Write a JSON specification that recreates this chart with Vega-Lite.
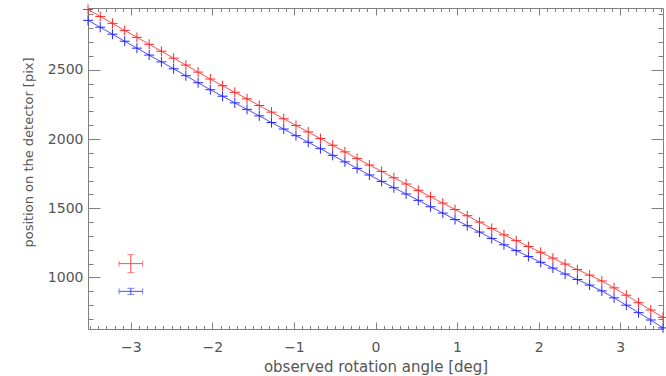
{
  "$schema": "https://vega.github.io/schema/vega-lite/v6.json",
  "width": 575,
  "height": 321,
  "autosize": "none",
  "padding": {"left": 88, "right": 3, "top": 8, "bottom": 47},
  "background": "white",
  "datasets": {
    "pts": [
      {"angle": -3.525, "red": 2935, "blue": 2857},
      {"angle": -3.375, "red": 2885, "blue": 2807},
      {"angle": -3.225, "red": 2835, "blue": 2757},
      {"angle": -3.075, "red": 2784, "blue": 2706},
      {"angle": -2.925, "red": 2734, "blue": 2656},
      {"angle": -2.775, "red": 2684, "blue": 2606},
      {"angle": -2.625, "red": 2634, "blue": 2557},
      {"angle": -2.475, "red": 2584, "blue": 2507},
      {"angle": -2.325, "red": 2534, "blue": 2457},
      {"angle": -2.175, "red": 2483, "blue": 2406},
      {"angle": -2.025, "red": 2433, "blue": 2356},
      {"angle": -1.875, "red": 2385, "blue": 2309},
      {"angle": -1.725, "red": 2337, "blue": 2261},
      {"angle": -1.575, "red": 2290, "blue": 2214},
      {"angle": -1.425, "red": 2242, "blue": 2167},
      {"angle": -1.275, "red": 2194, "blue": 2119},
      {"angle": -1.125, "red": 2146, "blue": 2072},
      {"angle": -0.975, "red": 2098, "blue": 2024},
      {"angle": -0.825, "red": 2051, "blue": 1977},
      {"angle": -0.675, "red": 2003, "blue": 1930},
      {"angle": -0.525, "red": 1955, "blue": 1882},
      {"angle": -0.375, "red": 1907, "blue": 1835},
      {"angle": -0.225, "red": 1860, "blue": 1788},
      {"angle": -0.075, "red": 1812, "blue": 1740},
      {"angle": 0.075, "red": 1766, "blue": 1694},
      {"angle": 0.225, "red": 1720, "blue": 1648},
      {"angle": 0.375, "red": 1675, "blue": 1603},
      {"angle": 0.525, "red": 1629, "blue": 1557},
      {"angle": 0.675, "red": 1583, "blue": 1511},
      {"angle": 0.825, "red": 1537, "blue": 1465},
      {"angle": 0.975, "red": 1491, "blue": 1419},
      {"angle": 1.125, "red": 1446, "blue": 1374},
      {"angle": 1.275, "red": 1400, "blue": 1328},
      {"angle": 1.425, "red": 1354, "blue": 1282},
      {"angle": 1.575, "red": 1308, "blue": 1236},
      {"angle": 1.725, "red": 1266, "blue": 1194},
      {"angle": 1.875, "red": 1224, "blue": 1152},
      {"angle": 2.025, "red": 1182, "blue": 1110},
      {"angle": 2.175, "red": 1140, "blue": 1068},
      {"angle": 2.325, "red": 1097, "blue": 1025},
      {"angle": 2.475, "red": 1057, "blue": 985},
      {"angle": 2.625, "red": 1017, "blue": 945},
      {"angle": 2.775, "red": 975, "blue": 903},
      {"angle": 2.925, "red": 925, "blue": 853},
      {"angle": 3.075, "red": 872, "blue": 800},
      {"angle": 3.225, "red": 818, "blue": 746},
      {"angle": 3.375, "red": 765, "blue": 693},
      {"angle": 3.525, "red": 712, "blue": 636}
    ],
    "leg": [
      {"s": "red", "x": -3.0, "xlo": -3.145, "xhi": -2.855, "y": 1100, "ylo": 1035, "yhi": 1165},
      {"s": "blue", "x": -3.0, "xlo": -3.145, "xhi": -2.855, "y": 900, "ylo": 878, "yhi": 922}
    ]
  },
  "resolve": {"axis": {"x": "independent", "y": "independent"}},
  "layer": [
    {
      "data": {"name": "pts"},
      "mark": {"type": "line", "color": "#ff5050", "strokeWidth": 1},
      "encoding": {
        "x": {"field": "angle", "type": "quantitative", "scale": {"domain": [-3.525, 3.525], "nice": false, "zero": false},
          "axis": {"orient": "bottom", "ticks": false, "values": [-3, -2, -1, 0, 1, 2, 3], "format": "d", "labelPadding": 11, "title": "observed rotation angle [deg]", "titleFontSize": 15, "titlePadding": 5, "labelFlush": false}},
        "y": {"field": "red", "type": "quantitative", "scale": {"domain": [628, 2946], "nice": false, "zero": false},
          "axis": {"orient": "left", "ticks": false, "values": [1000, 1500, 2000, 2500], "format": "d", "labelPadding": 5, "title": "position on the detector [pix]", "titleFontSize": 13, "titlePadding": 12, "titleY": 144, "labelFlush": false}}
      }
    },
    {
      "data": {"name": "pts"},
      "mark": {"type": "line", "color": "#5050ff", "strokeWidth": 1},
      "encoding": {
        "x": {"field": "angle", "type": "quantitative", "scale": {"domain": [-3.525, 3.525], "nice": false, "zero": false},
          "axis": {"orient": "bottom", "labels": false, "title": null, "tickSize": -7, "values": [-3, -2, -1, 0, 1, 2, 3]}},
        "y": {"field": "blue", "type": "quantitative", "scale": {"domain": [628, 2946], "nice": false, "zero": false},
          "axis": {"orient": "left", "labels": false, "title": null, "tickSize": -12, "values": [1000, 1500, 2000, 2500]}}
      }
    },
    {
      "data": {"name": "pts"},
      "mark": {"type": "point", "shape": "M-1,0H1M0,-1V1", "filled": false, "size": 100, "strokeWidth": 1, "color": "#ff2828", "opacity": 1},
      "encoding": {
        "x": {"field": "angle", "type": "quantitative", "scale": {"domain": [-3.525, 3.525], "nice": false, "zero": false},
          "axis": {"orient": "bottom", "labels": false, "title": null, "tickSize": -3.5, "values": [-3.5, -3.4, -3.3, -3.2, -3.1, -2.9, -2.8, -2.7, -2.6, -2.5, -2.4, -2.3, -2.2, -2.1, -1.9, -1.8, -1.7, -1.6, -1.5, -1.4, -1.3, -1.2, -1.1, -0.9, -0.8, -0.7, -0.6, -0.5, -0.4, -0.3, -0.2, -0.1, 0.1, 0.2, 0.3, 0.4, 0.5, 0.6, 0.7, 0.8, 0.9, 1.1, 1.2, 1.3, 1.4, 1.5, 1.6, 1.7, 1.8, 1.9, 2.1, 2.2, 2.3, 2.4, 2.5, 2.6, 2.7, 2.8, 2.9, 3.1, 3.2, 3.3, 3.4, 3.5]}},
        "y": {"field": "red", "type": "quantitative", "scale": {"domain": [628, 2946], "nice": false, "zero": false},
          "axis": {"orient": "left", "labels": false, "title": null, "tickSize": -5, "values": [700, 800, 900, 1100, 1200, 1300, 1400, 1600, 1700, 1800, 1900, 2100, 2200, 2300, 2400, 2600, 2700, 2800, 2900]}}
      }
    },
    {
      "data": {"name": "pts"},
      "mark": {"type": "point", "shape": "M-1,0H1M0,-1V1", "filled": false, "size": 100, "strokeWidth": 1, "color": "#2828ff", "opacity": 1},
      "encoding": {
        "x": {"field": "angle", "type": "quantitative", "scale": {"domain": [-3.525, 3.525], "nice": false, "zero": false},
          "axis": {"orient": "top", "labels": false, "title": null, "tickSize": -7, "values": [-3, -2, -1, 0, 1, 2, 3]}},
        "y": {"field": "blue", "type": "quantitative", "scale": {"domain": [628, 2946], "nice": false, "zero": false},
          "axis": {"orient": "right", "labels": false, "title": null, "tickSize": -12, "values": [1000, 1500, 2000, 2500]}}
      }
    },
    {
      "data": {"name": "leg"},
      "mark": {"type": "rule", "strokeWidth": 1},
      "encoding": {
        "x": {"field": "xlo", "type": "quantitative", "scale": {"domain": [-3.525, 3.525], "nice": false, "zero": false},
          "axis": {"orient": "top", "labels": false, "title": null, "tickSize": -3.5, "values": [-3.5, -3.4, -3.3, -3.2, -3.1, -2.9, -2.8, -2.7, -2.6, -2.5, -2.4, -2.3, -2.2, -2.1, -1.9, -1.8, -1.7, -1.6, -1.5, -1.4, -1.3, -1.2, -1.1, -0.9, -0.8, -0.7, -0.6, -0.5, -0.4, -0.3, -0.2, -0.1, 0.1, 0.2, 0.3, 0.4, 0.5, 0.6, 0.7, 0.8, 0.9, 1.1, 1.2, 1.3, 1.4, 1.5, 1.6, 1.7, 1.8, 1.9, 2.1, 2.2, 2.3, 2.4, 2.5, 2.6, 2.7, 2.8, 2.9, 3.1, 3.2, 3.3, 3.4, 3.5]}},
        "x2": {"field": "xhi"},
        "y": {"field": "y", "type": "quantitative", "scale": {"domain": [628, 2946], "nice": false, "zero": false},
          "axis": {"orient": "right", "labels": false, "title": null, "tickSize": -5, "values": [700, 800, 900, 1100, 1200, 1300, 1400, 1600, 1700, 1800, 1900, 2100, 2200, 2300, 2400, 2600, 2700, 2800, 2900]}},
        "color": {"field": "s", "type": "nominal", "scale": {"domain": ["red", "blue"], "range": ["#ff4a4a", "#4a4aff"]}, "legend": null}
      }
    },
    {
      "data": {"name": "leg"},
      "mark": {"type": "rule", "strokeWidth": 1},
      "encoding": {
        "x": {"field": "x", "type": "quantitative", "scale": {"domain": [-3.525, 3.525], "nice": false, "zero": false}, "axis": null},
        "y": {"field": "ylo", "type": "quantitative", "scale": {"domain": [628, 2946], "nice": false, "zero": false}, "axis": null},
        "y2": {"field": "yhi"},
        "color": {"field": "s", "type": "nominal", "scale": {"domain": ["red", "blue"], "range": ["#ff4a4a", "#4a4aff"]}, "legend": null}
      }
    },
    {
      "data": {"name": "leg"},
      "mark": {"type": "tick", "orient": "vertical", "size": 6, "thickness": 1},
      "encoding": {
        "x": {"field": "xlo", "type": "quantitative", "scale": {"domain": [-3.525, 3.525], "nice": false, "zero": false}, "axis": null},
        "y": {"field": "y", "type": "quantitative", "scale": {"domain": [628, 2946], "nice": false, "zero": false}, "axis": null},
        "color": {"field": "s", "type": "nominal", "scale": {"domain": ["red", "blue"], "range": ["#ff4a4a", "#4a4aff"]}, "legend": null}
      }
    },
    {
      "data": {"name": "leg"},
      "mark": {"type": "tick", "orient": "vertical", "size": 6, "thickness": 1},
      "encoding": {
        "x": {"field": "xhi", "type": "quantitative", "scale": {"domain": [-3.525, 3.525], "nice": false, "zero": false}, "axis": null},
        "y": {"field": "y", "type": "quantitative", "scale": {"domain": [628, 2946], "nice": false, "zero": false}, "axis": null},
        "color": {"field": "s", "type": "nominal", "scale": {"domain": ["red", "blue"], "range": ["#ff4a4a", "#4a4aff"]}, "legend": null}
      }
    },
    {
      "data": {"name": "leg"},
      "mark": {"type": "tick", "orient": "horizontal", "size": 7, "thickness": 1},
      "encoding": {
        "x": {"field": "x", "type": "quantitative", "scale": {"domain": [-3.525, 3.525], "nice": false, "zero": false}, "axis": null},
        "y": {"field": "ylo", "type": "quantitative", "scale": {"domain": [628, 2946], "nice": false, "zero": false}, "axis": null},
        "color": {"field": "s", "type": "nominal", "scale": {"domain": ["red", "blue"], "range": ["#ff4a4a", "#4a4aff"]}, "legend": null}
      }
    },
    {
      "data": {"name": "leg"},
      "mark": {"type": "tick", "orient": "horizontal", "size": 7, "thickness": 1},
      "encoding": {
        "x": {"field": "x", "type": "quantitative", "scale": {"domain": [-3.525, 3.525], "nice": false, "zero": false}, "axis": null},
        "y": {"field": "yhi", "type": "quantitative", "scale": {"domain": [628, 2946], "nice": false, "zero": false}, "axis": null},
        "color": {"field": "s", "type": "nominal", "scale": {"domain": ["red", "blue"], "range": ["#ff4a4a", "#4a4aff"]}, "legend": null}
      }
    }
  ],
  "config": {
    "view": {"stroke": "#808080", "strokeWidth": 1},
    "axis": {
      "domain": false,
      "grid": false,
      "tickColor": "#808080",
      "tickWidth": 1,
      "labelColor": "#555555",
      "titleColor": "#555555",
      "labelFont": "DejaVu Sans",
      "titleFont": "DejaVu Sans",
      "labelFontSize": 14,
      "titleFontSize": 13,
      "titleFontWeight": "normal"
    }
  }
}
